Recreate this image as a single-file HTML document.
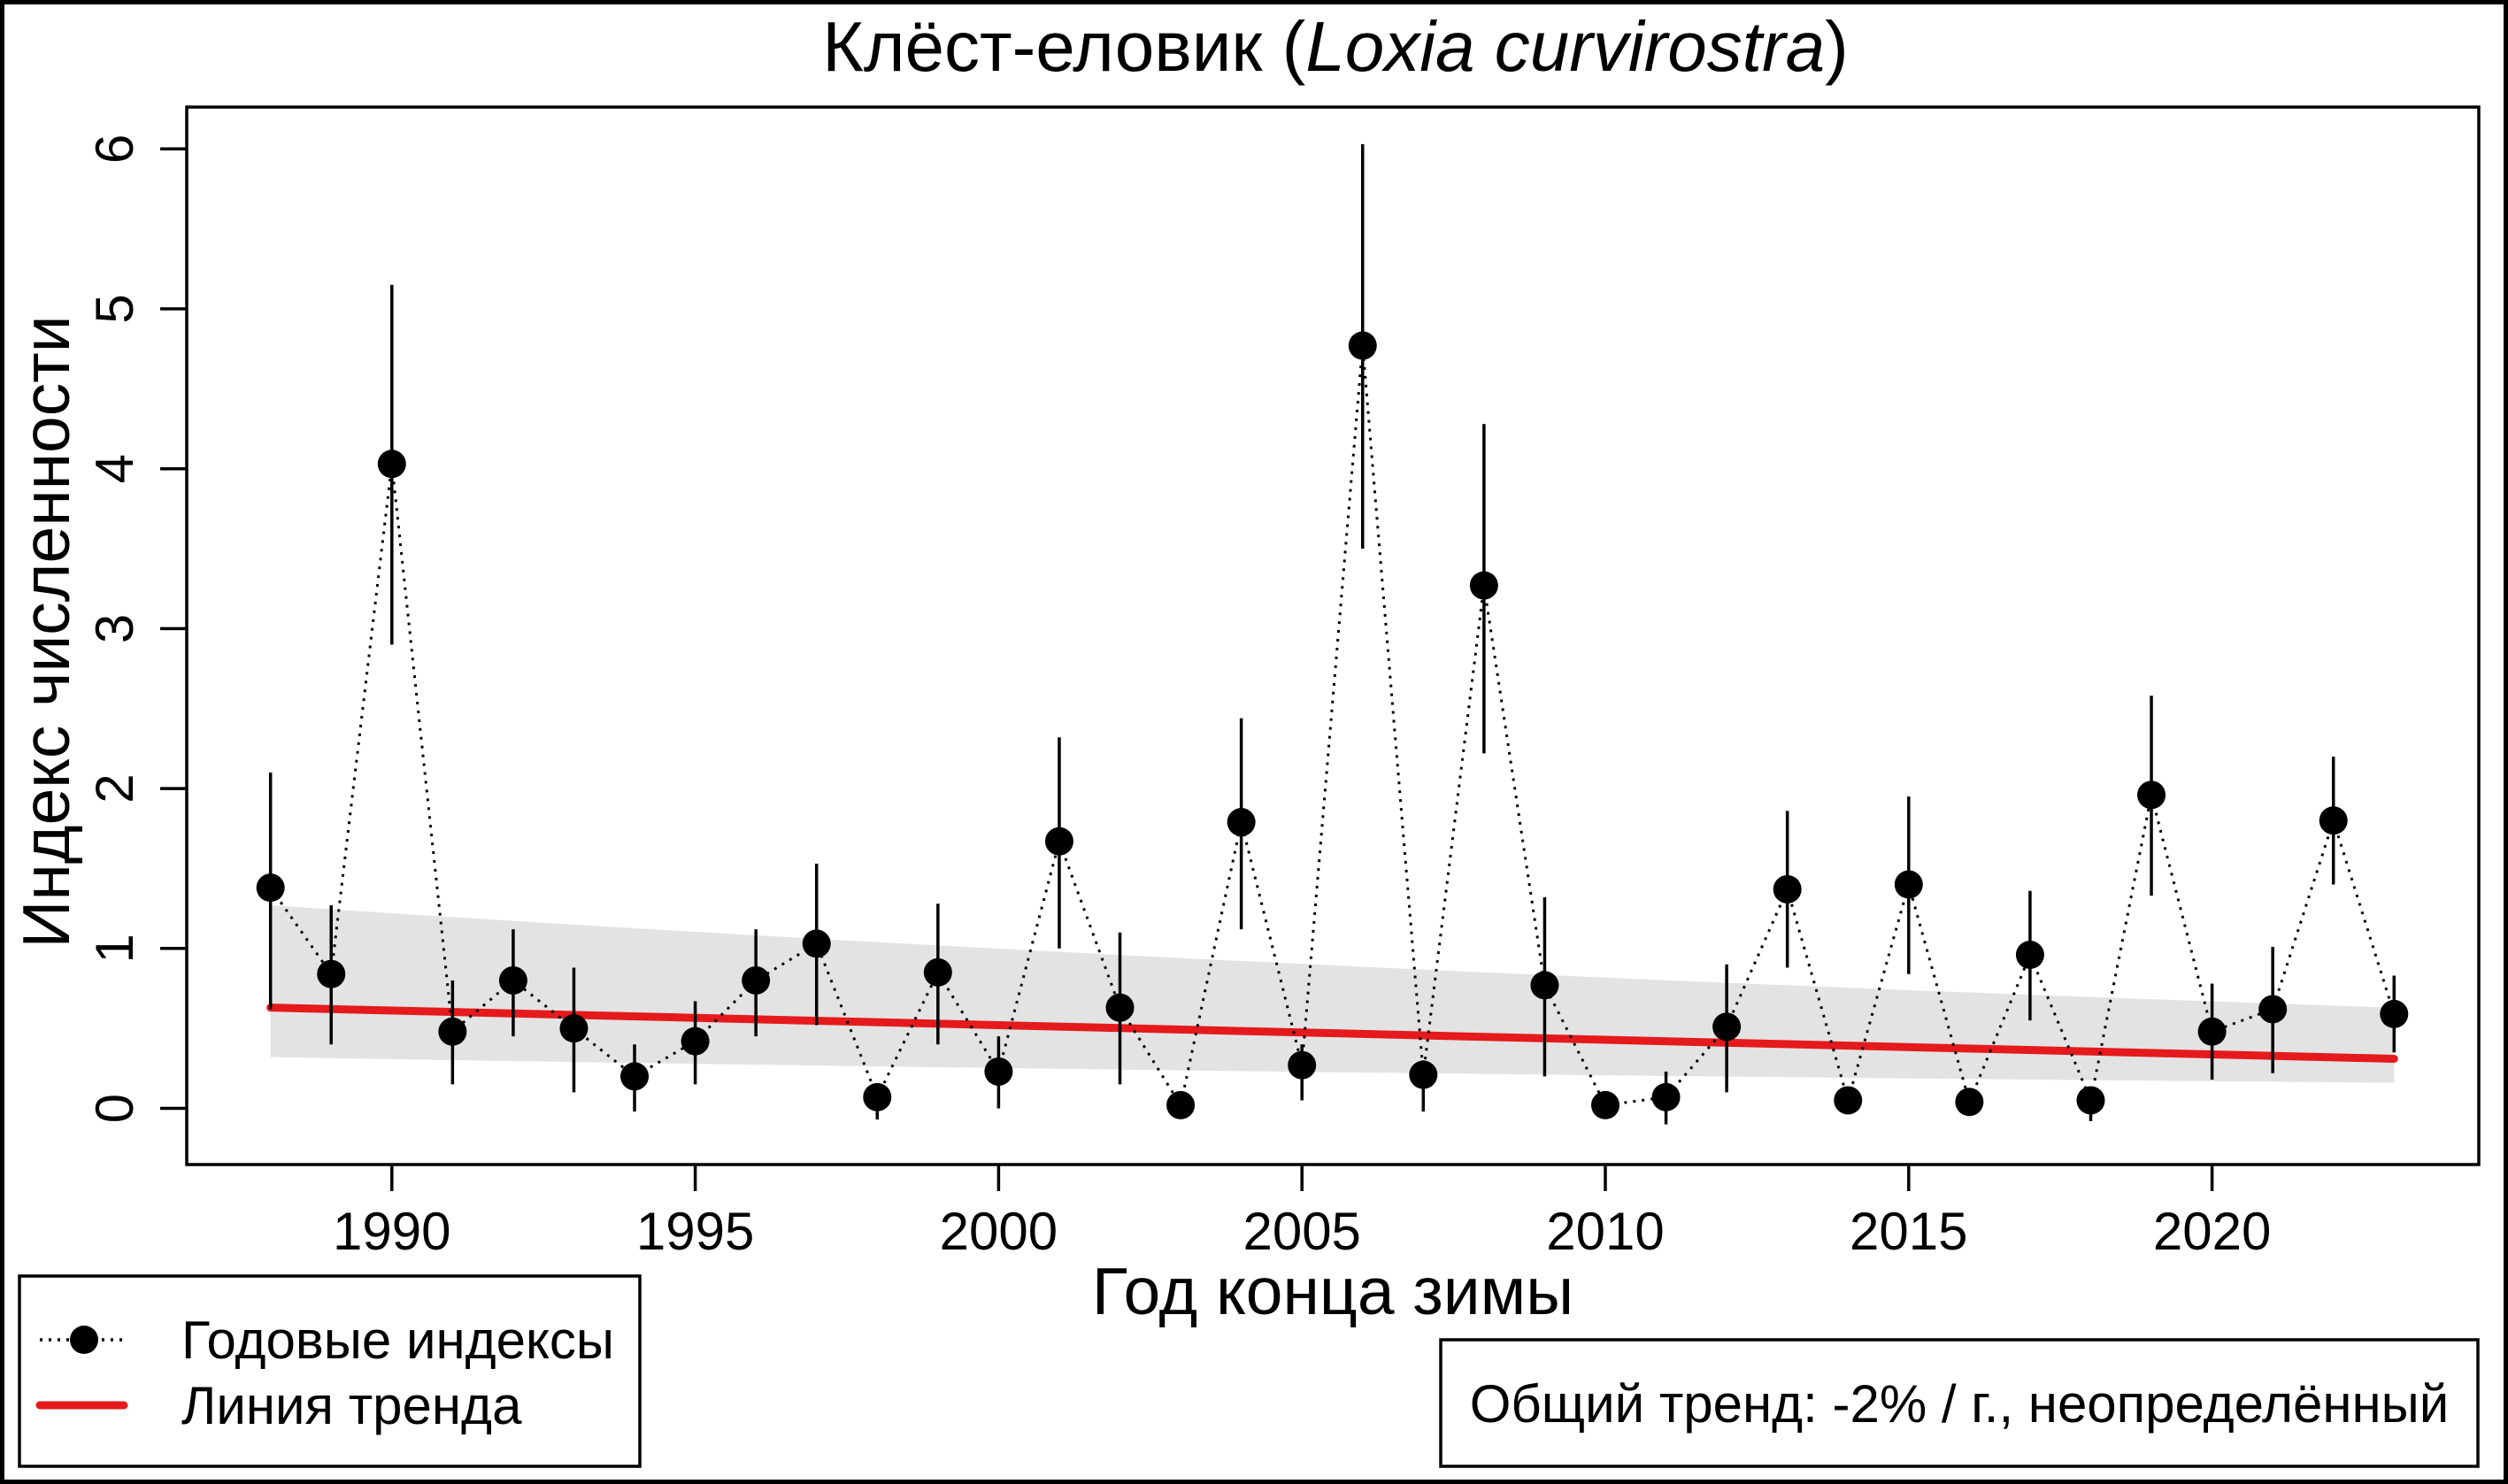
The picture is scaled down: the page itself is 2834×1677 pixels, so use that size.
<!DOCTYPE html>
<html><head><meta charset="utf-8"><style>
html,body{margin:0;padding:0;background:#fff}
svg{display:block}
text{font-family:"Liberation Sans",Arial,sans-serif;fill:#000}
</style></head><body>
<svg width="2834" height="1677" viewBox="0 0 2834 1677" xmlns="http://www.w3.org/2000/svg">
<rect x="2.5" y="2.5" width="2829" height="1672" fill="#fff" stroke="#000" stroke-width="5"/>
<text x="1509" y="80" font-size="80" text-anchor="middle">Клёст-еловик (<tspan font-style="italic">Loxia curvirostra</tspan>)</text>
<g id="plot"></g>
<rect x="211" y="121" width="2590" height="1195" fill="none" stroke="#000" stroke-width="3.5"/>
<text x="1506" y="1485" font-size="75" text-anchor="middle">Год конца зимы</text>
<text transform="translate(78,714) rotate(-90)" font-size="75" text-anchor="middle">Индекс численности</text>
<rect x="22" y="1442" width="701" height="215" fill="#fff" stroke="#000" stroke-width="3.5"/>
<line x1="45" y1="1514" x2="140" y2="1514" stroke="#000" stroke-width="3.5" stroke-dasharray="3,7"/>
<circle cx="95" cy="1514" r="16"/>
<line x1="45" y1="1588" x2="140" y2="1588" stroke="#e41a1c" stroke-width="9" stroke-linecap="round"/>
<text x="205" y="1535" font-size="60">Годовые индексы</text>
<text x="205" y="1609" font-size="60">Линия тренда</text>
<rect x="1628" y="1514" width="1172" height="143" fill="#fff" stroke="#000" stroke-width="3.5"/>
<text x="2214" y="1607" font-size="60" text-anchor="middle">Общий тренд: -2% / г., неопределённый</text>
</svg>
<script>
(function(){
var NS="http://www.w3.org/2000/svg",g=document.getElementById("plot");
function X(y){return 442.8+(y-1990)*68.56}
function Y(v){return 1252.5-v*180.7}
function el(n,a){var e=document.createElementNS(NS,n);for(var k in a)e.setAttribute(k,a[k]);g.appendChild(e);return e}
var d=[[1988,1.38,0.62,2.1],[1989,0.84,0.4,1.27],[1990,4.03,2.9,5.15],[1991,0.48,0.15,0.8],[1992,0.8,0.45,1.12],[1993,0.5,0.1,0.88],[1994,0.2,-0.02,0.4],[1995,0.42,0.15,0.67],[1996,0.8,0.45,1.12],[1997,1.03,0.52,1.53],[1998,0.07,-0.07,0.1],[1999,0.85,0.4,1.28],[2000,0.23,0.0,0.45],[2001,1.67,1.0,2.32],[2002,0.63,0.15,1.1],[2003,0.02,0.0,0.04],[2004,1.79,1.12,2.44],[2005,0.27,0.05,0.4],[2006,4.77,3.5,6.03],[2007,0.21,-0.02,0.3],[2008,3.27,2.22,4.28],[2009,0.77,0.2,1.32],[2010,0.02,0,0.04],[2011,0.07,-0.1,0.23],[2012,0.51,0.1,0.9],[2013,1.37,0.88,1.86],[2014,0.05,0,0.08],[2015,1.4,0.84,1.95],[2016,0.04,0,0.07],[2017,0.96,0.55,1.36],[2018,0.05,-0.08,0.08],[2019,1.96,1.33,2.58],[2020,0.48,0.18,0.78],[2021,0.62,0.22,1.01],[2022,1.8,1.4,2.2],[2023,0.59,0.35,0.83]];
var up=[],lo=[];
for(var y=1988;y<=2023;y++){var t=(y-1988)/35;
 var u=1.27*Math.pow(0.63/1.27,t), l=0.32*Math.pow(0.16/0.32,t);
 up.push(X(y)+","+Y(u));lo.unshift(X(y)+","+Y(l));}
el("polygon",{points:up.concat(lo).join(" "),fill:"#e3e3e3"});
el("line",{x1:X(1988),y1:Y(0.63),x2:X(2023),y2:Y(0.31),stroke:"#e41a1c","stroke-width":9,"stroke-linecap":"round"});
el("polyline",{points:d.map(function(p){return X(p[0])+","+Y(p[1])}).join(" "),fill:"none",stroke:"#000","stroke-width":3,"stroke-dasharray":"3,7"});
d.forEach(function(p){
 el("line",{x1:X(p[0]),y1:Y(p[2]),x2:X(p[0]),y2:Y(p[3]),stroke:"#000","stroke-width":3.5});
 el("circle",{cx:X(p[0]),cy:Y(p[1]),r:16,fill:"#000"});
});
for(var yr=1990;yr<=2020;yr+=5){var x=X(yr);
 el("line",{x1:x,y1:1316,x2:x,y2:1346,stroke:"#000","stroke-width":3.5});
 var t=el("text",{x:x,y:1412,"font-size":60,"text-anchor":"middle"});t.textContent=yr;}
for(var v=0;v<=6;v++){var y2=Y(v);
 el("line",{x1:181,y1:y2,x2:211,y2:y2,stroke:"#000","stroke-width":3.5});
 var t2=el("text",{transform:"translate(150,"+y2+") rotate(-90)","font-size":60,"text-anchor":"middle"});t2.textContent=v;}
})();
</script>
</body></html>
